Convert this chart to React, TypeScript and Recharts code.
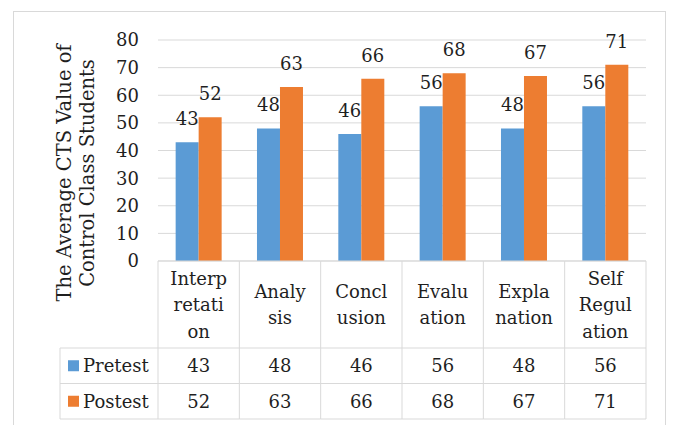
import React from 'react';
import { BarChart, Bar, XAxis, YAxis, CartesianGrid, LabelList } from 'recharts';

const categories = ['Interpretation', 'Analysis', 'Conclusion', 'Evaluation', 'Explanation', 'Self Regulation'];
// wrapped the way the header cells break them
const categoryLines = [
  ['Interp', 'retati', 'on'],
  ['Analy', 'sis'],
  ['Concl', 'usion'],
  ['Evalu', 'ation'],
  ['Expla', 'nation'],
  ['Self', 'Regul', 'ation'],
];
const pretest = [43, 48, 46, 56, 48, 56];
const postest = [52, 63, 66, 68, 67, 71];
const seriesNames = ['Pretest', 'Postest'];
const yTicks = [0, 10, 20, 30, 40, 50, 60, 70, 80];
const yLabelLines = ['The Average CTS Value of', 'Control Class Students'];

const data = categories.map((name, i) => ({ name, pretest: pretest[i], postest: postest[i] }));

const BLUE = '#5B9BD5';
const ORANGE = '#ED7D31';
const GRID = '#d9d9d9';
const TEXT = '#1f1f1f';
const FONT = '"DejaVu Serif", serif';
const FS = 18;

const PLOT_LEFT = 158;
const PLOT_RIGHT = 646;
const TABLE_LEFT = 60;
const HEADER_H = 87;
const ROW_H = 35.5;

const TableTick = (props: any) => {
  const { x, y, payload } = props;
  const index = props.index ?? payload.index;
  const bw = (PLOT_RIGHT - PLOT_LEFT) / categories.length;
  const left = x - bw / 2;
  const right = x + bw / 2;
  const r1 = y + HEADER_H;
  const r2 = r1 + ROW_H;
  const r3 = r2 + ROW_H;
  const lines = categoryLines[index] || [payload.value];
  const lh = 26.5;
  const mid = y + HEADER_H / 2;
  const rowVals = [pretest[index], postest[index]];
  const colors = [BLUE, ORANGE];

  return (
    <g fontFamily={FONT} fontSize={FS} fill={TEXT}>
      <line x1={left} x2={right} y1={y} y2={y} stroke={GRID} />
      <line x1={left} x2={right} y1={r1} y2={r1} stroke={GRID} />
      <line x1={left} x2={right} y1={r2} y2={r2} stroke={GRID} />
      <line x1={left} x2={right} y1={r3} y2={r3} stroke={GRID} />
      <line x1={right} x2={right} y1={y} y2={r3} stroke={GRID} />
      {lines.map((t: string, i: number) => (
        <text key={t + i} x={x} y={mid + (i - (lines.length - 1) / 2) * lh} textAnchor="middle" dominantBaseline="central">
          {t}
        </text>
      ))}
      {rowVals.map((v, i) => (
        <text key={'v' + i} x={x} y={r1 + ROW_H * (i + 0.5)} textAnchor="middle" dominantBaseline="central">
          {v}
        </text>
      ))}
      {index === 0 && (
        <g>
          <line x1={left} x2={left} y1={y} y2={r3} stroke={GRID} />
          <line x1={TABLE_LEFT} x2={TABLE_LEFT} y1={r1} y2={r3} stroke={GRID} />
          <line x1={TABLE_LEFT} x2={left} y1={r1} y2={r1} stroke={GRID} />
          <line x1={TABLE_LEFT} x2={left} y1={r2} y2={r2} stroke={GRID} />
          <line x1={TABLE_LEFT} x2={left} y1={r3} y2={r3} stroke={GRID} />
          {seriesNames.map((s, i) => (
            <g key={s}>
              <rect x={68} y={r1 + ROW_H * (i + 0.5) - 5.5} width={11} height={11} fill={colors[i]} />
              <text x={83} y={r1 + ROW_H * (i + 0.5)} dominantBaseline="central">
                {s}
              </text>
            </g>
          ))}
        </g>
      )}
    </g>
  );
};

const YTitle = () => (
  <g fontFamily={FONT} fontSize={19.5} fill={TEXT}>
    {yLabelLines.map((t, i) => (
      <text key={t} transform={`translate(${71 + i * 23},173) rotate(-90)`} textAnchor="middle">
        {t}
      </text>
    ))}
  </g>
);

const App: React.FC = () => (
  <div style={{ position: 'absolute', left: 0, top: 0, width: 676, height: 425, background: '#fff', overflow: 'hidden' }}>
    <div style={{ position: 'absolute', left: 13, top: 11, width: 651, height: 430, border: `1.5px solid ${GRID}` }} />
    <BarChart
      width={676}
      height={425}
      data={data}
      margin={{ top: 40, right: 30, bottom: 6, left: 0 }}
      barCategoryGap="21.7%"
      barGap={0}
      style={{ position: 'absolute', left: 0, top: 0 }}
    >
      <CartesianGrid vertical={false} stroke={GRID} />
      <YAxis
        width={158}
        domain={[0, 80]}
        ticks={yTicks}
        tickLine={false}
        axisLine={false}
        tickMargin={13}
        tick={{ fontFamily: FONT, fontSize: FS, fill: TEXT }}
        label={{ content: () => <YTitle /> }}
      />
      <XAxis dataKey="name" height={158} tickSize={0} tickMargin={0} axisLine={false} tickLine={false} interval={0} tick={<TableTick />} />
      <Bar dataKey="pretest" name="Pretest" fill={BLUE} isAnimationActive={false}>
        <LabelList dataKey="pretest" position="top" offset={17} style={{ fontFamily: FONT, fontSize: FS, fill: TEXT }} />
      </Bar>
      <Bar dataKey="postest" name="Postest" fill={ORANGE} isAnimationActive={false}>
        <LabelList dataKey="postest" position="top" offset={17} style={{ fontFamily: FONT, fontSize: FS, fill: TEXT }} />
      </Bar>
    </BarChart>
  </div>
);

export default App;
